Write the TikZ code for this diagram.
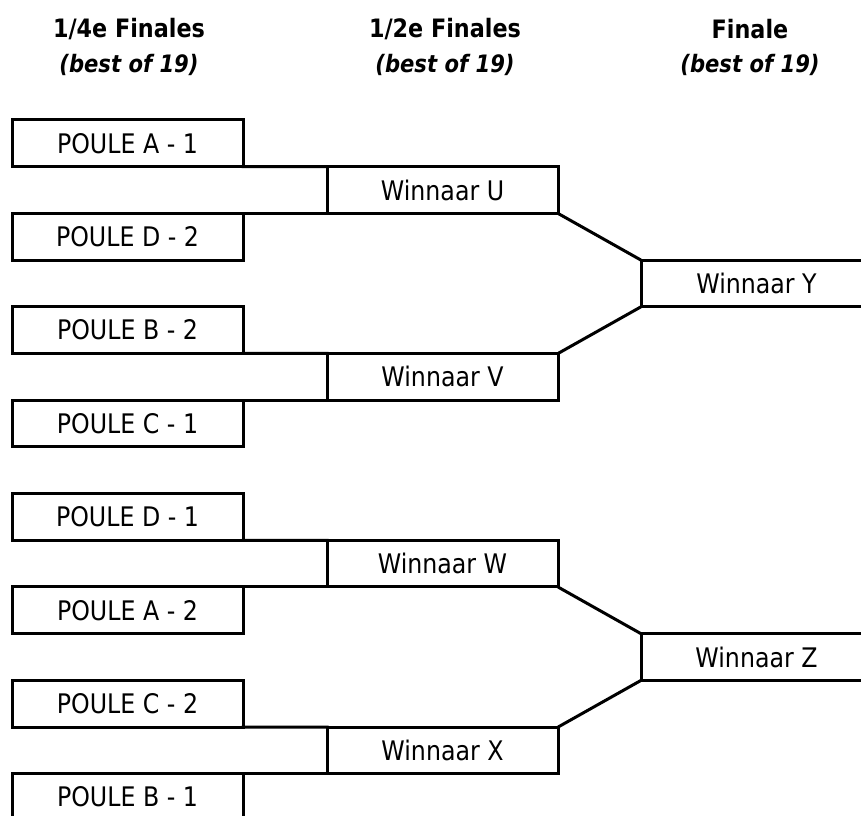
\documentclass[tikz,border=0pt]{standalone}
\usepackage{fontspec}
\setmainfont{DejaVu Sans}[FakeStretch=0.88]
\begin{document}
\begin{tikzpicture}[x=0.75pt,y=-0.75pt,
  every node/.style={inner sep=0pt,outer sep=0pt},
  box/.style={draw,line width=2.25pt,minimum width=231*0.75pt,minimum height=46.7*0.75pt,
    font=\fontsize{20.2}{24}\selectfont},
  conn/.style={line width=2.25pt,line cap=rect},
  head/.style={font=\fontsize{19}{22}\selectfont\bfseries},
  sub/.style={font=\fontsize{18}{21}\selectfont\bfseries\itshape}]
\clip (0,0) rectangle (861,816);
\def\r{46.7}
% headers
\node[head] (h1) at (129,29) {1/4e Finales};
\node[sub] (s1) at (129,65) {(best of 19)};
\node[head] (h2) at (445,29) {1/2e Finales};
\node[sub] (s2) at (445,65) {(best of 19)};
\node[head] (h3) at (750,29) {Finale};
\node[sub] (s3) at (750,65) {(best of 19)};
% quarter finals
\node[box] (qa1) at (127.5,{120+0.5*\r}) {POULE A - 1};
\node[box] (qd2) at (127.5,{120+2.5*\r}) {POULE D - 2};
\node[box] (qb2) at (127.5,{120+4.5*\r}) {POULE B - 2};
\node[box] (qc1) at (127.5,{120+6.5*\r}) {POULE C - 1};
\node[box] (qd1) at (127.5,{120+8.5*\r}) {POULE D - 1};
\node[box] (qa2) at (127.5,{120+10.5*\r}) {POULE A - 2};
\node[box] (qc2) at (127.5,{120+12.5*\r}) {POULE C - 2};
\node[box] (qb1) at (127.5,{120+14.5*\r}) {POULE B - 1};
% semi finals
\node[box] (wu) at (442.5,{120+1.5*\r}) {Winnaar U};
\node[box] (wv) at (442.5,{120+5.5*\r}) {Winnaar V};
\node[box] (ww) at (442.5,{120+9.5*\r}) {Winnaar W};
\node[box] (wx) at (442.5,{120+13.5*\r}) {Winnaar X};
% finals
\node[box] (wy) at (756.5,{120+3.5*\r}) {Winnaar Y};
\node[box] (wz) at (756.5,{120+11.5*\r}) {Winnaar Z};
% connectors
\draw[conn] (qa1.south east) -- (wu.north west);
\draw[conn] (qd2.north east) -- (wu.south west);
\draw[conn] (qb2.south east) -- (wv.north west);
\draw[conn] (qc1.north east) -- (wv.south west);
\draw[conn] (qd1.south east) -- (ww.north west);
\draw[conn] (qa2.north east) -- (ww.south west);
\draw[conn] (qc2.south east) -- (wx.north west);
\draw[conn] (qb1.north east) -- (wx.south west);
\draw[conn,line cap=butt] (wu.south east) -- (wy.north west);
\draw[conn,line cap=butt] (wv.north east) -- (wy.south west);
\draw[conn,line cap=butt] (ww.south east) -- (wz.north west);
\draw[conn,line cap=butt] (wx.north east) -- (wz.south west);
\end{tikzpicture}
\end{document}
